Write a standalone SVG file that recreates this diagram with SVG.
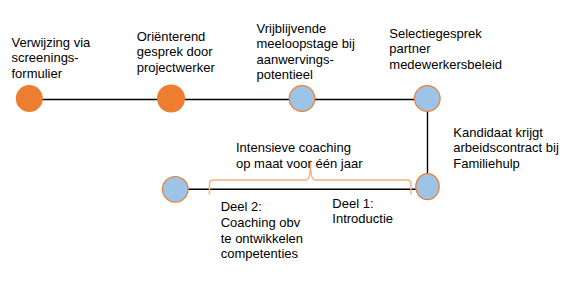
<svg xmlns="http://www.w3.org/2000/svg" width="572" height="305" viewBox="0 0 572 305">
<style>
.t{font-family:"Liberation Sans",Arial,sans-serif;font-size:13px;fill:#000}
.ln{stroke:#000;stroke-width:1.4;fill:none}
.or{fill:#ED7D31}
.bl{fill:#9DC3E6;stroke:#ED7D31;stroke-width:1.2}
.br{fill:none;stroke:#F4B183;stroke-width:1.5}
</style>
<rect width="572" height="305" fill="#fff"/>
<g id="connectors">
<path class="ln" d="M29,99.5 H427.5 V186.5"/>
<path class="ln" d="M175.5,189.3 H427"/>
<path class="br" d="M209.5,194.5 V184 Q209.5,180 213.5,180 H306 Q310.5,180 310.5,162.5 Q310.5,180 315,180 H407 Q411,180 411,184 V194.5"/>
</g>
<g id="n1">
<circle class="or" cx="29.3" cy="98.5" r="13.5"/>
<text class="t" x="11.5"><tspan x="11.5" y="46.7">Verwijzing via</tspan><tspan x="11.5" y="62.2">screenings-</tspan><tspan x="11.5" y="77.7">formulier</tspan></text>
</g>
<g id="n2">
<circle class="or" cx="171" cy="98.5" r="14"/>
<text class="t"><tspan x="136.7" y="40.7">Oriënterend</tspan><tspan x="136.7" y="56.2">gesprek door</tspan><tspan x="136.7" y="71.7">projectwerker</tspan></text>
</g>
<g id="n3">
<circle class="bl" cx="302" cy="98.5" r="12.8"/>
<text class="t"><tspan x="256.5" y="32.7">Vrijblijvende</tspan><tspan x="256.5" y="48.1">meeloopstage bij</tspan><tspan x="256.5" y="63.5">aanwervings-</tspan><tspan x="256.5" y="78.9">potentieel</tspan></text>
</g>
<g id="n4">
<circle class="bl" cx="427.3" cy="98.5" r="12.8"/>
<text class="t"><tspan x="389.3" y="37.7">Selectiegesprek</tspan><tspan x="389.3" y="53.2">partner</tspan><tspan x="389.3" y="68.7">medewerkersbeleid</tspan></text>
</g>
<g id="n5">
<ellipse class="bl" cx="427.5" cy="186.7" rx="11.7" ry="13"/>
<text class="t"><tspan x="453.3" y="136.7">Kandidaat krijgt</tspan><tspan x="453.3" y="152.2">arbeidscontract bij</tspan><tspan x="453.3" y="167.7">Familiehulp</tspan></text>
</g>
<g id="n6">
<circle class="bl" cx="175.3" cy="189.3" r="12.8"/>
</g>
<g id="brace-label">
<text class="t"><tspan x="236" y="152.3">Intensieve coaching</tspan><tspan x="236" y="167.7">op maat voor één jaar</tspan></text>
</g>
<g id="deel2">
<text class="t"><tspan x="220.7" y="210.7">Deel 2:</tspan><tspan x="220.7" y="226.6">Coaching obv</tspan><tspan x="220.7" y="242.5">te ontwikkelen</tspan><tspan x="220.7" y="258.3">competenties</tspan></text>
</g>
<g id="deel1">
<text class="t"><tspan x="332.3" y="207.7">Deel 1:</tspan><tspan x="332.3" y="223">Introductie</tspan></text>
</g>
</svg>
